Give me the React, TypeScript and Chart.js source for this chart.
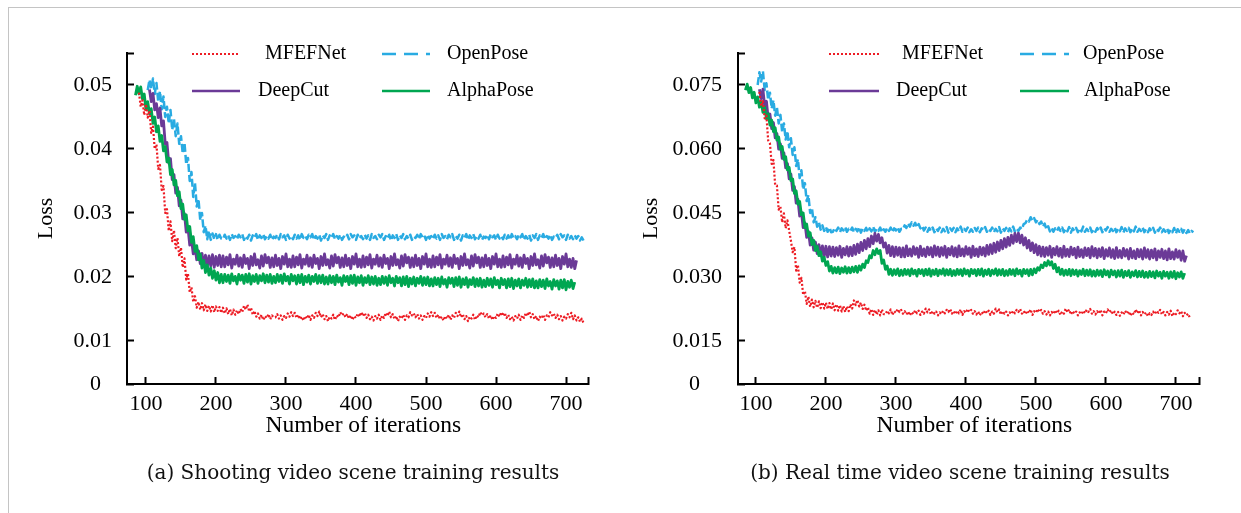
import React, { useEffect, useRef } from "react";
import { Chart, registerables } from "chart.js";

Chart.register(...registerables);

const FONT = "'Liberation Serif', 'Times New Roman', serif";
const CAPTION_FONT = "'DejaVu Serif', serif";

// iteration sample grid (x values)
const iterations = [
  85, 87.5, 90, 92.5, 95, 97.5, 100, 102.5, 105, 107.5,
  110, 112.5, 115, 117.5, 120, 122.5, 125, 127.5, 130, 132.5,
  135, 137.5, 140, 142.5, 145, 147.5, 150, 152.5, 155, 157.5,
  160, 162.5, 165, 167.5, 170, 172.5, 175, 177.5, 180, 182.5,
  185, 187.5, 190, 192.5, 195, 197.5, 200, 202.5, 205, 207.5,
  210, 212.5, 215, 217.5, 220, 222.5, 225, 227.5, 230, 232.5,
  235, 237.5, 240, 242.5, 245, 247.5, 250, 252.5, 255, 257.5,
  260, 262.5, 265, 267.5, 270, 272.5, 275, 277.5, 280, 282.5,
  285, 287.5, 290, 292.5, 295, 297.5, 300, 302.5, 305, 307.5,
  310, 312.5, 315, 317.5, 320, 322.5, 325, 327.5, 330, 332.5,
  335, 337.5, 340, 342.5, 345, 347.5, 350, 352.5, 355, 357.5,
  360, 362.5, 365, 367.5, 370, 372.5, 375, 377.5, 380, 382.5,
  385, 387.5, 390, 392.5, 395, 397.5, 400, 402.5, 405, 407.5,
  410, 412.5, 415, 417.5, 420, 422.5, 425, 427.5, 430, 432.5,
  435, 437.5, 440, 442.5, 445, 447.5, 450, 452.5, 455, 457.5,
  460, 462.5, 465, 467.5, 470, 472.5, 475, 477.5, 480, 482.5,
  485, 487.5, 490, 492.5, 495, 497.5, 500, 502.5, 505, 507.5,
  510, 512.5, 515, 517.5, 520, 522.5, 525, 527.5, 530, 532.5,
  535, 537.5, 540, 542.5, 545, 547.5, 550, 552.5, 555, 557.5,
  560, 562.5, 565, 567.5, 570, 572.5, 575, 577.5, 580, 582.5,
  585, 587.5, 590, 592.5, 595, 597.5, 600, 602.5, 605, 607.5,
  610, 612.5, 615, 617.5, 620, 622.5, 625, 627.5, 630, 632.5,
  635, 637.5, 640, 642.5, 645, 647.5, 650, 652.5, 655, 657.5,
  660, 662.5, 665, 667.5, 670, 672.5, 675, 677.5, 680, 682.5,
  685, 687.5, 690, 692.5, 695, 697.5, 700, 702.5, 705, 707.5,
  710, 712.5, 715, 717.5, 720, 722.5, 725,
];

const xTickValues = [100, 200, 300, 400, 500, 600, 700];
const yTicksA = [0.01, 0.02, 0.03, 0.04, 0.05];
const yTicksB = [0.015, 0.03, 0.045, 0.06, 0.075];

const seriesNames = ["MFEFNet", "OpenPose", "DeepCut", "AlphaPose"];
const seriesColors = ["#ed1c24", "#29abe2", "#6b3a97", "#00a651"];

const N = null;

// ---------- (a) Shooting video scene ----------
const aMFEFNet = [
  N, N, .0488, .0466, .0476, .0453, .0470, .0449, .0460, .0425,
  .0435, .0400, .0407, .0369, .0375, .0336, .0342, .0300, .0306, .0272,
  .0287, .0256, .0273, .0245, .0261, .0232, .0246, .0215, .0229, .0196,
  .0205, .0176, .0184, .0161, .0170, .0152, .0161, .0149, .0159, .0148,
  .0157, .0147, .0155, .0146, .0156, .0145, .0154, .0147, .0153, .0144,
  .0152, .0143, .0151, .0142, .0150, .0140, .0149, .0141, .0148, .0142,
  .0150, .0145, .0155, .0149, .0157, .0146, .0152, .0141, .0147, .0138,
  .0143, .0135, .0141, .0133, .0139, .0136, .0142, .0134, .0140, .0137,
  .0137, .0142, .0135, .0140, .0133, .0139, .0136, .0143, .0138, .0145,
  .0139, .0144, .0136, .0141, .0134, .0138, .0132, .0139, .0135, .0141,
  .0133, .0140, .0136, .0144, .0139, .0146, .0137, .0142, .0134, .0139,
  .0131, .0138, .0135, .0141, .0133, .0140, .0137, .0145, .0140, .0143,
  .0137, .0142, .0135, .0140, .0133, .0139, .0136, .0143, .0138, .0145,
  .0139, .0144, .0136, .0141, .0134, .0138, .0132, .0139, .0135, .0141,
  .0133, .0140, .0136, .0144, .0139, .0146, .0137, .0142, .0134, .0139,
  .0131, .0138, .0135, .0141, .0133, .0140, .0137, .0145, .0140, .0143,
  .0137, .0142, .0135, .0140, .0133, .0139, .0136, .0143, .0138, .0145,
  .0139, .0144, .0136, .0141, .0134, .0138, .0132, .0139, .0135, .0141,
  .0133, .0140, .0136, .0144, .0139, .0146, .0137, .0142, .0134, .0139,
  .0131, .0138, .0135, .0141, .0133, .0140, .0137, .0145, .0140, .0143,
  .0137, .0142, .0135, .0140, .0133, .0139, .0136, .0143, .0138, .0145,
  .0139, .0144, .0136, .0141, .0134, .0138, .0132, .0139, .0135, .0141,
  .0133, .0140, .0136, .0144, .0139, .0146, .0137, .0142, .0134, .0139,
  .0131, .0138, .0135, .0141, .0133, .0140, .0137, .0145, .0140, .0143,
  .0136, .0141, .0134, .0139, .0132, .0138, .0135, .0142, .0137, .0144,
  .0134, .0140, .0132, .0137, .0130, .0135, .0128,
];
const aOpenPose = [
  N, N, N, N, N, N, N, .0492, .0508, .0494,
  .0510, .0486, .0503, .0474, .0490, .0462, .0482, .0450, .0466, .0440,
  .0461, .0430, .0447, .0420, .0440, .0408, .0420, .0393, .0410, .0376,
  .0386, .0350, .0364, .0325, .0347, .0310, .0322, .0289, .0300, .0270,
  .0280, .0259, .0272, .0258, .0268, .0259, .0267, .0258, .0266, .0260,
  .0259, .0266, .0260, .0265, .0258, .0267, .0261, .0264, .0259, .0266,
  .0262, .0267, .0258, .0264, .0260, .0266, .0257, .0265, .0261, .0267,
  .0258, .0265, .0261, .0267, .0259, .0264, .0260, .0266, .0258, .0263,
  .0261, .0266, .0259, .0267, .0262, .0265, .0258, .0266, .0260, .0264,
  .0259, .0266, .0260, .0265, .0258, .0267, .0261, .0264, .0259, .0266,
  .0262, .0267, .0258, .0264, .0260, .0266, .0257, .0265, .0261, .0267,
  .0258, .0265, .0261, .0267, .0259, .0264, .0260, .0266, .0258, .0263,
  .0261, .0266, .0259, .0267, .0262, .0265, .0258, .0266, .0260, .0264,
  .0259, .0266, .0260, .0265, .0258, .0267, .0261, .0264, .0259, .0266,
  .0262, .0267, .0258, .0264, .0260, .0266, .0257, .0265, .0261, .0267,
  .0258, .0265, .0261, .0267, .0259, .0264, .0260, .0266, .0258, .0263,
  .0261, .0266, .0259, .0267, .0262, .0265, .0258, .0266, .0260, .0264,
  .0259, .0266, .0260, .0265, .0258, .0267, .0261, .0264, .0259, .0266,
  .0262, .0267, .0258, .0264, .0260, .0266, .0257, .0265, .0261, .0267,
  .0258, .0265, .0261, .0267, .0259, .0264, .0260, .0266, .0258, .0263,
  .0261, .0266, .0259, .0267, .0262, .0265, .0258, .0266, .0260, .0264,
  .0259, .0266, .0260, .0265, .0258, .0267, .0261, .0264, .0259, .0266,
  .0262, .0267, .0258, .0264, .0260, .0266, .0257, .0265, .0261, .0267,
  .0258, .0265, .0261, .0267, .0259, .0264, .0260, .0266, .0258, .0263,
  .0261, .0266, .0259, .0267, .0262, .0265, .0258, .0266, .0260, .0264,
  .0259, .0265, .0260, .0264, .0257, .0262, .0257,
];
const aDeepCut = [
  N, N, N, N, N, N, N, N, .0493, .0474,
  .0487, .0461, .0471, .0449, .0464, .0436, .0444, .0408, .0410, .0378,
  .0385, .0352, .0360, .0331, .0340, .0311, .0320, .0291, .0299, .0270,
  .0277, .0250, .0259, .0236, .0246, .0227, .0241, .0221, .0237, .0218,
  .0234, .0216, .0233, .0217, .0235, .0215, .0232, .0218, .0234, .0216,
  .0233, .0216, .0231, .0219, .0235, .0214, .0228, .0220, .0234, .0217,
  .0230, .0215, .0234, .0221, .0229, .0213, .0232, .0218, .0236, .0219,
  .0227, .0214, .0233, .0217, .0235, .0222, .0231, .0215, .0230, .0216,
  .0234, .0218, .0229, .0213, .0232, .0220, .0236, .0216, .0228, .0215,
  .0233, .0216, .0231, .0219, .0235, .0214, .0228, .0220, .0234, .0217,
  .0230, .0215, .0234, .0221, .0229, .0213, .0232, .0218, .0236, .0219,
  .0227, .0214, .0233, .0217, .0235, .0222, .0231, .0215, .0230, .0216,
  .0234, .0218, .0229, .0213, .0232, .0220, .0236, .0216, .0228, .0215,
  .0233, .0216, .0231, .0219, .0235, .0214, .0228, .0220, .0234, .0217,
  .0230, .0215, .0234, .0221, .0229, .0213, .0232, .0218, .0236, .0219,
  .0227, .0214, .0233, .0217, .0235, .0222, .0231, .0215, .0230, .0216,
  .0234, .0218, .0229, .0213, .0232, .0220, .0236, .0216, .0228, .0215,
  .0233, .0216, .0231, .0219, .0235, .0214, .0228, .0220, .0234, .0217,
  .0230, .0215, .0234, .0221, .0229, .0213, .0232, .0218, .0236, .0219,
  .0227, .0214, .0233, .0217, .0235, .0222, .0231, .0215, .0230, .0216,
  .0234, .0218, .0229, .0213, .0232, .0220, .0236, .0216, .0228, .0215,
  .0233, .0216, .0231, .0219, .0235, .0214, .0228, .0220, .0234, .0217,
  .0230, .0215, .0234, .0221, .0229, .0213, .0232, .0218, .0236, .0219,
  .0227, .0214, .0233, .0217, .0235, .0222, .0231, .0215, .0230, .0216,
  .0234, .0218, .0229, .0213, .0232, .0220, .0236, .0216, .0228, .0215,
  .0229, .0213, .0226, N, N, N, N,
];
const aAlphaPose = [
  .0484, .0498, .0486, .0497, .0478, .0486, .0462, .0474, .0455, .0463,
  .0440, .0450, .0427, .0436, .0412, .0421, .0397, .0404, .0380, .0386,
  .0360, .0368, .0344, .0351, .0327, .0333, .0307, .0314, .0290, .0297,
  .0272, .0279, .0254, .0263, .0240, .0249, .0227, .0236, .0214, .0226,
  .0207, .0219, .0203, .0214, .0198, .0210, .0195, .0207, .0191, .0204,
  .0191, .0204, .0193, .0203, .0190, .0205, .0194, .0201, .0189, .0204,
  .0195, .0203, .0190, .0204, .0192, .0205, .0189, .0202, .0193, .0204,
  .0190, .0202, .0194, .0205, .0191, .0203, .0192, .0204, .0190, .0201,
  .0191, .0204, .0193, .0203, .0190, .0205, .0194, .0201, .0189, .0204,
  .0194, .0202, .0189, .0203, .0191, .0204, .0188, .0201, .0192, .0203,
  .0189, .0201, .0193, .0204, .0190, .0202, .0191, .0203, .0189, .0200,
  .0189, .0202, .0191, .0201, .0188, .0203, .0192, .0199, .0187, .0202,
  .0193, .0201, .0188, .0202, .0190, .0203, .0187, .0200, .0191, .0202,
  .0187, .0199, .0191, .0202, .0188, .0200, .0189, .0201, .0187, .0198,
  .0188, .0201, .0190, .0200, .0187, .0202, .0191, .0198, .0186, .0201,
  .0191, .0199, .0186, .0200, .0188, .0201, .0185, .0198, .0189, .0200,
  .0186, .0198, .0190, .0201, .0187, .0199, .0188, .0200, .0186, .0197,
  .0186, .0199, .0188, .0198, .0185, .0200, .0189, .0196, .0184, .0199,
  .0190, .0198, .0185, .0199, .0187, .0200, .0184, .0197, .0188, .0199,
  .0184, .0196, .0188, .0199, .0185, .0197, .0186, .0198, .0184, .0195,
  .0185, .0198, .0187, .0197, .0184, .0199, .0188, .0195, .0183, .0198,
  .0188, .0196, .0183, .0197, .0185, .0198, .0182, .0195, .0186, .0197,
  .0183, .0195, .0187, .0198, .0184, .0196, .0185, .0197, .0183, .0194,
  .0183, .0196, .0185, .0195, .0182, .0197, .0186, .0193, .0181, .0196,
  .0186, .0194, .0181, .0195, .0183, .0196, .0180, .0193, .0184, .0195,
  .0182, .0192, N, N, N, N, N,
];

// ---------- (b) Real time video scene ----------
const bMFEFNet = [
  N, N, N, N, N, N, N, N, .0734, .0700,
  .0712, .0672, .0678, .0620, .0614, .0565, .0574, .0515, .0514, .0458,
  .0465, .0428, .0449, .0414, .0433, .0408, .0385, .0358, .0370, .0315,
  .0328, .0287, .0298, .0258, .0267, .0237, .0254, .0230, .0247, .0229,
  .0244, .0228, .0243, .0227, .0241, .0226, .0240, .0225, .0239, .0224,
  .0238, .0222, .0236, .0221, .0234, .0219, .0232, .0218, .0231, .0220,
  .0236, .0226, .0245, .0234, .0246, .0231, .0240, .0225, .0235, .0221,
  .0229, .0214, .0225, .0211, .0223, .0212, .0222, .0210, .0224, .0213,
  .0213, .0221, .0215, .0224, .0211, .0220, .0216, .0225, .0218, .0223,
  .0214, .0220, .0212, .0219, .0210, .0218, .0213, .0222, .0215, .0221,
  .0211, .0219, .0214, .0226, .0217, .0224, .0212, .0220, .0214, .0219,
  .0210, .0217, .0213, .0221, .0215, .0223, .0218, .0225, .0214, .0220,
  .0213, .0221, .0215, .0224, .0211, .0220, .0216, .0225, .0218, .0223,
  .0214, .0220, .0212, .0219, .0210, .0218, .0213, .0222, .0215, .0221,
  .0211, .0219, .0214, .0226, .0217, .0224, .0212, .0220, .0214, .0219,
  .0210, .0217, .0213, .0221, .0215, .0223, .0218, .0225, .0214, .0220,
  .0213, .0221, .0215, .0224, .0211, .0220, .0216, .0225, .0218, .0223,
  .0214, .0220, .0212, .0219, .0210, .0218, .0213, .0222, .0215, .0221,
  .0211, .0219, .0214, .0226, .0217, .0224, .0212, .0220, .0214, .0219,
  .0210, .0217, .0213, .0221, .0215, .0223, .0218, .0225, .0214, .0220,
  .0212, .0220, .0214, .0223, .0210, .0219, .0215, .0224, .0217, .0222,
  .0213, .0219, .0211, .0218, .0209, .0217, .0212, .0221, .0214, .0220,
  .0209, .0217, .0212, .0224, .0215, .0222, .0210, .0218, .0212, .0217,
  .0208, .0215, .0211, .0219, .0213, .0221, .0216, .0223, .0212, .0218,
  .0210, .0218, .0212, .0221, .0208, .0217, .0213, .0222, .0215, .0220,
  .0208, .0216, .0210, .0214, .0204, N, N,
];
const bOpenPose = [
  N, N, N, N, N, N, N, .0750, .0780, .0758,
  .0782, .0738, .0754, .0715, .0732, .0695, .0714, .0678, .0698, .0660,
  .0680, .0640, .0660, .0622, .0642, .0604, .0625, .0586, .0604, .0560,
  .0576, .0532, .0550, .0505, .0520, .0478, .0492, .0450, .0462, .0428,
  .0440, .0418, .0428, .0411, .0421, .0408, .0417, .0406, .0416, .0405,
  .0406, .0415, .0408, .0416, .0405, .0414, .0409, .0417, .0406, .0413,
  .0408, .0416, .0405, .0413, .0407, .0417, .0404, .0414, .0408, .0415,
  .0405, .0414, .0407, .0418, .0406, .0413, .0408, .0416, .0405, .0412,
  .0406, .0415, .0408, .0416, .0405, .0414, .0409, .0417, .0406, .0413,
  .0412, .0421, .0415, .0426, .0418, .0428, .0420, .0427, .0416, .0424,
  .0414, .0420, .0409, .0416, .0406, .0415, .0408, .0416, .0405, .0414,
  .0408, .0416, .0405, .0413, .0407, .0417, .0404, .0414, .0408, .0415,
  .0405, .0414, .0407, .0418, .0406, .0413, .0408, .0416, .0405, .0412,
  .0406, .0415, .0408, .0416, .0405, .0414, .0409, .0417, .0406, .0413,
  .0408, .0416, .0405, .0413, .0407, .0417, .0404, .0414, .0408, .0415,
  .0405, .0414, .0407, .0418, .0406, .0413, .0408, .0416, .0412, .0424,
  .0426, .0434, .0430, .0440, .0432, .0438, .0428, .0434, .0424, .0430,
  .0418, .0425, .0412, .0419, .0407, .0415, .0406, .0414, .0408, .0416,
  .0408, .0416, .0405, .0413, .0407, .0417, .0404, .0414, .0408, .0415,
  .0405, .0414, .0407, .0418, .0406, .0413, .0408, .0416, .0405, .0412,
  .0406, .0415, .0408, .0416, .0405, .0414, .0409, .0417, .0406, .0413,
  .0408, .0416, .0405, .0413, .0407, .0417, .0404, .0414, .0408, .0415,
  .0405, .0414, .0407, .0418, .0406, .0413, .0408, .0416, .0405, .0412,
  .0405, .0414, .0407, .0415, .0404, .0413, .0408, .0416, .0405, .0412,
  .0406, .0414, .0403, .0411, .0405, .0415, .0402, .0412, .0406, .0413,
  .0404, .0412, .0403, .0410, .0402, .0408, .0405,
];
const bDeepCut = [
  N, N, N, N, N, N, N, N, .0740, .0718,
  .0740, .0700, .0712, .0672, .0682, .0648, .0662, .0626, .0636, .0600,
  .0612, .0578, .0591, .0556, .0566, .0530, .0541, .0503, .0512, .0473,
  .0482, .0443, .0452, .0416, .0427, .0393, .0407, .0375, .0392, .0363,
  .0382, .0355, .0376, .0350, .0373, .0348, .0372, .0347, .0371, .0349,
  .0370, .0348, .0369, .0351, .0372, .0346, .0367, .0352, .0371, .0349,
  .0370, .0350, .0374, .0353, .0377, .0357, .0381, .0362, .0386, .0366,
  .0390, .0371, .0396, .0378, .0402, .0384, .0400, .0380, .0392, .0370,
  .0380, .0356, .0374, .0350, .0371, .0348, .0370, .0351, .0369, .0347,
  .0368, .0347, .0373, .0350, .0366, .0349, .0371, .0353, .0368, .0346,
  .0372, .0350, .0366, .0348, .0370, .0352, .0369, .0347, .0373, .0351,
  .0370, .0348, .0369, .0351, .0372, .0346, .0367, .0352, .0371, .0349,
  .0368, .0347, .0373, .0350, .0366, .0349, .0371, .0353, .0368, .0346,
  .0372, .0350, .0366, .0348, .0370, .0352, .0369, .0349, .0374, .0353,
  .0376, .0355, .0379, .0358, .0382, .0362, .0386, .0366, .0390, .0370,
  .0393, .0374, .0398, .0379, .0402, .0383, .0403, .0380, .0398, .0375,
  .0392, .0368, .0386, .0362, .0380, .0357, .0376, .0352, .0372, .0349,
  .0370, .0348, .0369, .0351, .0372, .0346, .0367, .0352, .0371, .0349,
  .0367, .0346, .0372, .0349, .0365, .0348, .0370, .0352, .0367, .0345,
  .0370, .0348, .0364, .0346, .0368, .0350, .0367, .0345, .0371, .0349,
  .0367, .0345, .0366, .0348, .0369, .0343, .0364, .0349, .0368, .0346,
  .0364, .0343, .0369, .0346, .0362, .0345, .0367, .0349, .0364, .0342,
  .0367, .0345, .0361, .0343, .0365, .0347, .0364, .0342, .0368, .0346,
  .0364, .0342, .0363, .0345, .0366, .0340, .0361, .0346, .0365, .0343,
  .0361, .0340, .0366, .0343, .0359, .0342, .0364, .0346, .0361, .0339,
  .0361, .0337, .0350, N, N, N, N,
];
const bAlphaPose = [
  .0738, .0752, .0732, .0744, .0720, .0733, .0708, .0722, .0698, .0711,
  .0686, .0698, .0671, .0683, .0656, .0668, .0641, .0650, .0621, .0628,
  .0599, .0606, .0576, .0582, .0551, .0557, .0526, .0530, .0496, .0502,
  .0471, .0477, .0446, .0450, .0416, .0424, .0396, .0404, .0376, .0386,
  .0362, .0372, .0350, .0359, .0337, .0346, .0327, .0336, .0314, .0325,
  .0309, .0322, .0310, .0323, .0308, .0321, .0311, .0324, .0309, .0322,
  .0310, .0323, .0312, .0325, .0311, .0326, .0316, .0330, .0322, .0338,
  .0334, .0350, .0345, .0362, .0352, .0366, .0355, .0362, .0332, .0340,
  .0318, .0326, .0306, .0318, .0304, .0317, .0306, .0319, .0303, .0316,
  .0304, .0318, .0306, .0317, .0303, .0319, .0307, .0316, .0302, .0318,
  .0308, .0317, .0303, .0318, .0305, .0319, .0302, .0316, .0306, .0318,
  .0303, .0316, .0307, .0319, .0304, .0317, .0305, .0318, .0303, .0315,
  .0304, .0318, .0306, .0317, .0303, .0319, .0307, .0316, .0302, .0318,
  .0308, .0317, .0303, .0318, .0305, .0319, .0302, .0316, .0306, .0318,
  .0303, .0316, .0307, .0319, .0304, .0317, .0305, .0318, .0303, .0315,
  .0304, .0318, .0306, .0317, .0303, .0319, .0307, .0316, .0302, .0318,
  .0308, .0317, .0303, .0318, .0305, .0319, .0310, .0322, .0316, .0328,
  .0322, .0334, .0326, .0338, .0328, .0336, .0320, .0330, .0312, .0322,
  .0306, .0318, .0304, .0316, .0305, .0318, .0303, .0317, .0306, .0316,
  .0302, .0315, .0306, .0318, .0303, .0316, .0304, .0317, .0302, .0314,
  .0302, .0316, .0304, .0315, .0301, .0317, .0305, .0314, .0300, .0316,
  .0305, .0314, .0300, .0315, .0302, .0316, .0299, .0313, .0303, .0315,
  .0299, .0312, .0303, .0315, .0300, .0313, .0301, .0314, .0299, .0311,
  .0299, .0313, .0301, .0312, .0298, .0314, .0302, .0311, .0297, .0313,
  .0302, .0311, .0297, .0312, .0299, .0313, .0296, .0310, .0300, .0312,
  .0297, .0309, N, N, N, N, N,
];

const lineStyles = [
  { width: 2.2, dash: [2, 2] },
  { width: 2.5, dash: [8, 3] },
  { width: 2.8, dash: [] as number[] },
  { width: 2.8, dash: [] as number[] },
];
const legendDash = [[2, 2], [14, 8], [], []];
const legendWidth = [2, 2.5, 2.5, 2.5];

type LegendItem = { s: number; x1: number; x2: number; y: number; tx: number };

type Panel = {
  series: (number | null)[][];
  yTicks: number[];
  decimals: number;
  yMin: number;
  yMax: number;
  xMin: number;
  xMax: number;
  canvasW: number;
  yAxisW: number;
  padRight: number;
  lossPad: number;
  zeroLabel: string;
  yPad: number;
  legend: LegendItem[];
};

const panelA: Panel = {
  series: [aMFEFNet, aOpenPose, aDeepCut, aAlphaPose],
  yTicks: yTicksA,
  decimals: 2,
  yMin: 0.00328,
  yMax: 0.055,
  xMin: 72.9,
  xMax: 731.4,
  canvasW: 620,
  yAxisW: 127,
  padRight: 32,
  lossPad: 33,
  zeroLabel: "0\u2007",
  yPad: 22,
  legend: [
    { s: 0, x1: 192, x2: 240, y: 54, tx: 265 },
    { s: 1, x1: 382, x2: 430, y: 54, tx: 447 },
    { s: 2, x1: 192, x2: 240, y: 91, tx: 258 },
    { s: 3, x1: 382, x2: 430, y: 91, tx: 447 },
  ],
};

const panelB: Panel = {
  series: [bMFEFNet, bOpenPose, bDeepCut, bAlphaPose],
  yTicks: yTicksB,
  decimals: 3,
  yMin: 0.00492,
  yMax: 0.0825,
  xMin: 74.4,
  xMax: 733,
  canvasW: 621,
  yAxisW: 118,
  padRight: 42,
  lossPad: 18,
  zeroLabel: "0\u2007\u2007",
  yPad: 23,
  legend: [
    { s: 0, x1: 209, x2: 259, y: 54, tx: 282 },
    { s: 1, x1: 400, x2: 449, y: 54, tx: 463 },
    { s: 2, x1: 209, x2: 259, y: 91, tx: 276 },
    { s: 3, x1: 400, x2: 449, y: 91, tx: 464 },
  ],
};

const legendPlugin = {
  id: "panelLegend",
  afterDraw(chart: any, _args: any, opts: any) {
    const ctx = chart.ctx as CanvasRenderingContext2D;
    ctx.save();
    (opts.items as LegendItem[]).forEach((it) => {
      ctx.beginPath();
      ctx.setLineDash(legendDash[it.s]);
      ctx.lineWidth = legendWidth[it.s];
      ctx.strokeStyle = seriesColors[it.s];
      ctx.moveTo(it.x1, it.y);
      ctx.lineTo(it.x2, it.y);
      ctx.stroke();
      ctx.setLineDash([]);
      ctx.fillStyle = "#000";
      ctx.font = `20px ${FONT}`;
      ctx.textBaseline = "middle";
      ctx.textAlign = "left";
      ctx.fillText(seriesNames[it.s], it.tx, it.y);
    });
    ctx.restore();
  },
};

function buildConfig(p: Panel): any {
  const order = [0, 3, 2, 1];
  const datasets = order.map((i) => ({
    label: seriesNames[i],
    data: iterations
      .map((x, k) => ({ x, y: p.series[i][k] }))
      .filter((d) => d.y !== null && d.y !== undefined),
    borderColor: seriesColors[i],
    backgroundColor: seriesColors[i],
    borderWidth: lineStyles[i].width,
    borderDash: lineStyles[i].dash,
    borderJoinStyle: "round",
    pointRadius: 0,
    fill: false,
    tension: 0,
  }));
  const tickFont = { family: FONT, size: 22 };
  return {
    type: "line",
    data: { datasets },
    plugins: [legendPlugin],
    options: {
      animation: false,
      responsive: false,
      maintainAspectRatio: false,
      layout: { padding: { top: 53, right: p.padRight, bottom: 73, left: 0 } },
      plugins: {
        legend: { display: false },
        tooltip: { enabled: false },
        panelLegend: { items: p.legend },
      },
      scales: {
        x: {
          type: "linear",
          min: p.xMin,
          max: p.xMax,
          afterBuildTicks: (s: any) => {
            s.ticks = [...xTickValues, p.xMax].map((v) => ({ value: v }));
          },
          afterFit: (s: any) => {
            s.height = 56;
          },
          ticks: {
            autoSkip: false,
            maxRotation: 0,
            padding: 14,
            color: "#000",
            font: tickFont,
            callback: (v: any, i: number, arr: any[]) =>
              i === arr.length - 1 ? "" : String(v),
          },
          grid: {
            drawOnChartArea: false,
            drawTicks: true,
            tickLength: -7,
            tickWidth: 2,
            tickColor: "#000",
          },
          border: { display: true, color: "#000", width: 2 },
          title: {
            display: true,
            text: "\u2002Number of iterations",
            color: "#000",
            font: { family: FONT, size: 23.5 },
            padding: { top: 0, bottom: 0 },
          },
        },
        y: {
          type: "linear",
          min: p.yMin,
          max: p.yMax,
          afterBuildTicks: (s: any) => {
            s.ticks = [p.yMin, ...p.yTicks, p.yMax].map((v) => ({ value: v }));
          },
          afterFit: (s: any) => {
            s.width = p.yAxisW;
          },
          ticks: {
            autoSkip: false,
            padding: p.yPad,
            color: "#000",
            font: tickFont,
            callback: (v: any, i: number, arr: any[]) =>
              i === 0 ? p.zeroLabel : i === arr.length - 1 ? "" : Number(v).toFixed(p.decimals),
          },
          grid: {
            drawOnChartArea: false,
            drawTicks: true,
            tickLength: -7,
            tickWidth: 2,
            tickColor: "#000",
          },
          border: { display: true, color: "#000", width: 2 },
          title: {
            display: true,
            text: "Loss",
            color: "#000",
            font: tickFont,
            padding: { top: p.lossPad, bottom: 0 },
          },
        },
      },
    },
  };
}

function PanelChart({ panel, left }: { panel: Panel; left: number }) {
  const ref = useRef<HTMLCanvasElement | null>(null);
  useEffect(() => {
    if (!ref.current) return;
    const chart = new Chart(ref.current, buildConfig(panel));
    return () => chart.destroy();
  }, [panel]);
  return (
    <canvas
      ref={ref}
      width={panel.canvasW}
      height={513}
      style={{ position: "absolute", left, top: 0, width: panel.canvasW, height: 513 }}
    />
  );
}

const captionStyle: React.CSSProperties = {
  position: "absolute",
  top: 460,
  transform: "translateX(-50%)",
  whiteSpace: "nowrap",
  fontFamily: CAPTION_FONT,
  fontSize: 20,
  lineHeight: "24px",
  color: "#111",
};

export default function App() {
  return (
    <div
      style={{
        position: "absolute",
        left: 0,
        top: 0,
        width: 1241,
        height: 513,
        background: "#fff",
        overflow: "hidden",
      }}
    >
      <div
        style={{
          position: "absolute",
          left: 8,
          top: 7,
          width: 1300,
          height: 600,
          borderTop: "1px solid #c4c4c4",
          borderLeft: "1px solid #c4c4c4",
        }}
      />
      <PanelChart panel={panelA} left={0} />
      <PanelChart panel={panelB} left={620} />
      <div style={{ ...captionStyle, left: 353 }}>(a) Shooting video scene training results</div>
      <div style={{ ...captionStyle, left: 960 }}>(b) Real time video scene training results</div>
    </div>
  );
}
